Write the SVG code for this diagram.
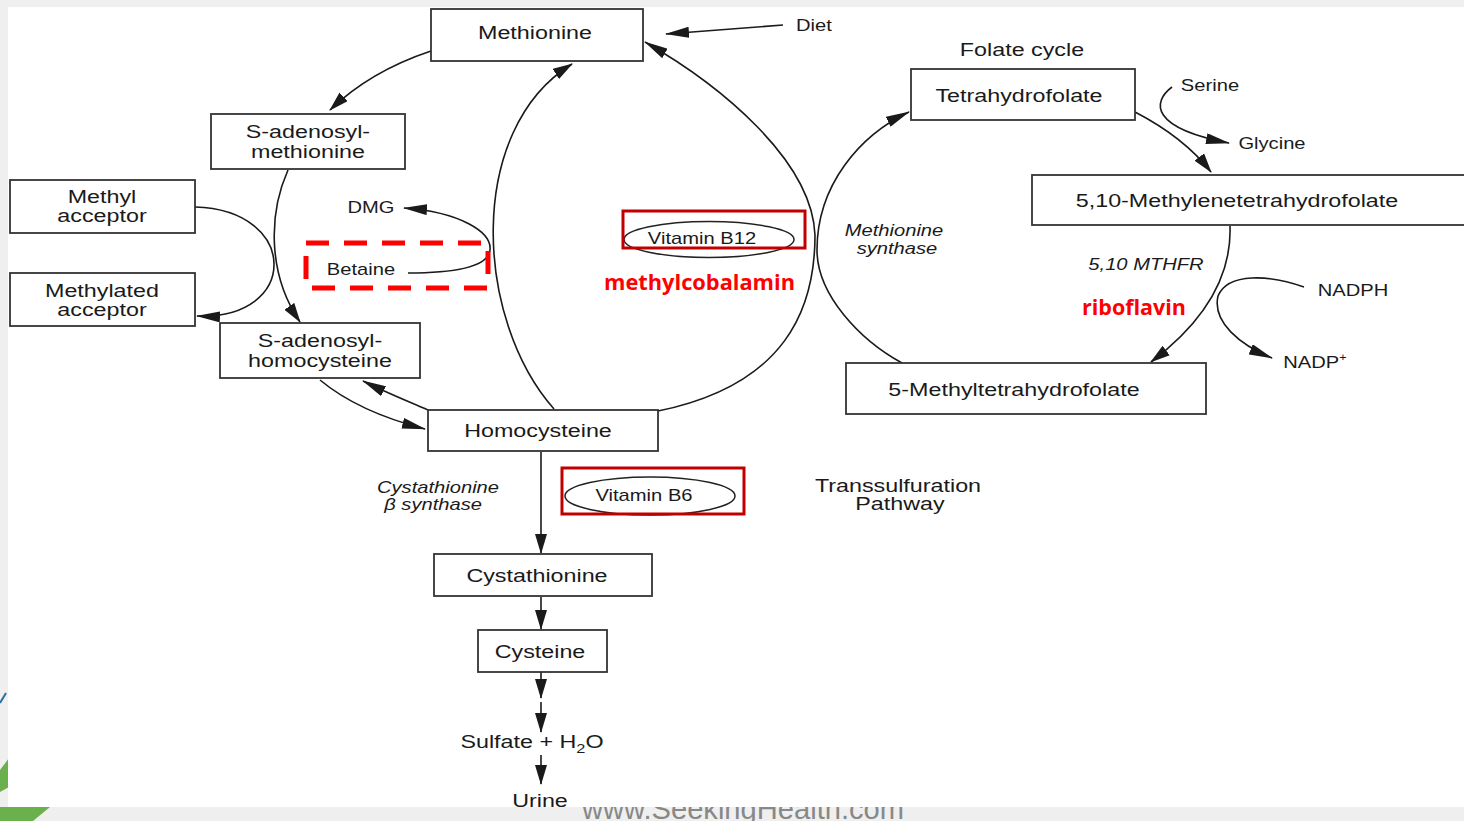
<svg xmlns="http://www.w3.org/2000/svg" width="1464" height="821" viewBox="0 0 1464 821">
<defs>
<style>
.bx{fill:#fff;stroke:#333;stroke-width:1.8}
.t{font-family:"Liberation Sans",Arial,sans-serif;fill:#1a1a1a;text-anchor:middle;transform-box:fill-box;transform-origin:center;transform:scaleX(1.26)}
.lg{font-size:18.5px}
.sm{font-size:16px}
.it{font-style:italic}
.ln{fill:none;stroke:#1a1a1a;stroke-width:1.6}
.h{marker-end:url(#ah)}
.v{marker-end:url(#av)}
.red{font-family:"Open Sans","Liberation Sans",Arial,sans-serif;font-weight:bold;font-size:21px;fill:#ff0000;text-anchor:middle}
.vb{fill:none;stroke:#c00000;stroke-width:3}
.el{fill:none;stroke:#222;stroke-width:1.5}
</style>
<marker id="ah" markerUnits="userSpaceOnUse" viewBox="0 0 24 11" markerWidth="24" markerHeight="11" refX="23" refY="5.5" orient="auto"><path d="M0,0 L24,5.5 L0,11 z" fill="#1a1a1a"/></marker>
<marker id="av" markerUnits="userSpaceOnUse" viewBox="0 0 20 12" markerWidth="20" markerHeight="12" refX="19" refY="6" orient="auto"><path d="M0,0 L20,6 L0,12 z" fill="#1a1a1a"/></marker>
<clipPath id="strip"><rect x="0" y="807" width="1464" height="14"/></clipPath>
</defs>

<g id="background">
<rect x="0" y="0" width="1464" height="821" fill="#efefef"/>
<polygon points="0,770 9,758 9,787 0,792" fill="#6ab04c"/>
<polygon points="0,807 50,807 33,821 0,821" fill="#6ab04c"/>
<line x1="0" y1="703" x2="6" y2="693" stroke="#2a6f9e" stroke-width="2"/>
<text x="743" y="819" clip-path="url(#strip)" font-family="Liberation Sans,Arial,sans-serif" font-size="29" fill="#888" text-anchor="middle" textLength="322" lengthAdjust="spacingAndGlyphs">www.SeekingHealth.com</text>
<rect x="8" y="7" width="1456" height="800" fill="#fff"/>
</g>

<g id="connectors">
<path class="ln v" d="M431,51 C395,63 358,83 330,110"/>
<path class="ln v" d="M288,170 C268,215 268,275 300,322"/>
<path class="ln h" d="M195,207 C300,210 300,320 197,316"/>
<path class="ln h" d="M320,380 C350,405 390,420 425,429"/>
<path class="ln h" d="M428,410 C405,400 385,392 363,381"/>
<path class="ln v" d="M554,409 C475,320 465,130 572,64"/>
<path class="ln h" d="M658,411 C785,385 815,310 815,235 C812,160 720,85 645,42"/>
<path class="ln h" d="M783,25 L666,34"/>
<path class="ln h" d="M408,273 C450,273 488,268 490,250 C492,232 460,212 404,208"/>
<path class="ln h" d="M902,363 C860,340 817,295 817,250 C817,185 860,135 909,112"/>
<path class="ln v" d="M1135,112 C1162,126 1190,145 1211,172"/>
<path class="ln h" d="M1172,87 C1152,102 1150,128 1229,143"/>
<path class="ln v" d="M1230,226 C1232,280 1200,325 1151,362"/>
<path class="ln h" d="M1304,287 C1270,275 1228,272 1218,296 C1212,322 1240,345 1272,358"/>
<path class="ln v" d="M541,452 L541,553"/>
<path class="ln v" d="M541,597 L541,629"/>
<path class="ln v" d="M541,672 L541,698"/>
<path class="ln v" d="M541,702 L541,732"/>
<path class="ln v" d="M541,755 L541,784"/>
</g>

<g id="methionine"><rect class="bx" x="431" y="9" width="212" height="52"/><text class="t lg" x="535" y="39">Methionine</text></g>
<g id="sam"><rect class="bx" x="211" y="114" width="194" height="55"/><text class="t lg" x="308" y="138">S-adenosyl-</text><text class="t lg" x="308" y="158">methionine</text></g>
<g id="methyl-acceptor"><rect class="bx" x="10" y="180" width="185" height="53"/><text class="t lg" x="102" y="203">Methyl</text><text class="t lg" x="102" y="222">acceptor</text></g>
<g id="methylated-acceptor"><rect class="bx" x="10" y="273" width="185" height="53"/><text class="t lg" x="102" y="297">Methylated</text><text class="t lg" x="102" y="316">acceptor</text></g>
<g id="sah"><rect class="bx" x="220" y="323" width="200" height="55"/><text class="t lg" x="320" y="347">S-adenosyl-</text><text class="t lg" x="320" y="367">homocysteine</text></g>
<g id="homocysteine"><rect class="bx" x="428" y="410" width="230" height="41"/><text class="t lg" x="538" y="437">Homocysteine</text></g>
<g id="tetrahydrofolate"><rect class="bx" x="911" y="69" width="224" height="51"/><text class="t lg" x="1019" y="102">Tetrahydrofolate</text></g>
<g id="methylenethf"><rect class="bx" x="1032" y="175" width="440" height="50"/><text class="t lg" x="1237" y="207">5,10-Methylenetetrahydrofolate</text></g>
<g id="methylthf"><rect class="bx" x="846" y="363" width="360" height="51"/><text class="t lg" x="1014" y="396">5-Methyltetrahydrofolate</text></g>
<g id="cystathionine"><rect class="bx" x="434" y="554" width="218" height="42"/><text class="t lg" x="537" y="582">Cystathionine</text></g>
<g id="cysteine"><rect class="bx" x="478" y="630" width="129" height="42"/><text class="t lg" x="540" y="658">Cysteine</text></g>
<g id="sulfate"><text class="t lg" x="532" y="748">Sulfate + H<tspan font-size="13" dy="5">2</tspan><tspan dy="-5">O</tspan></text></g>
<g id="urine"><text class="t lg" x="540" y="807">Urine</text></g>

<g id="labels">
<text class="t sm" x="814" y="31">Diet</text>
<text class="t lg" x="1022" y="56">Folate cycle</text>
<text class="t sm" x="1210" y="91">Serine</text>
<text class="t sm" x="1272" y="149">Glycine</text>
<text class="t sm" x="1353" y="296">NADPH</text>
<text class="t sm" x="1315" y="368">NADP<tspan font-size="10" dy="-7">+</tspan></text>
<text class="t sm it" x="1146" y="270">5,10 MTHFR</text>
<text class="t sm it" x="894" y="236">Methionine</text>
<text class="t sm it" x="897" y="254">synthase</text>
<text class="t sm" x="371" y="213">DMG</text>
<text class="t sm" x="361" y="275">Betaine</text>
<text class="t sm it" x="438" y="493">Cystathionine</text>
<text class="t sm it" x="433" y="510">β synthase</text>
<text class="t lg" x="898" y="492">Transsulfuration</text>
<text class="t lg" x="900" y="510">Pathway</text>
</g>

<g id="betaine-highlight"><rect x="306" y="243" width="182" height="45" fill="none" stroke="#ff0000" stroke-width="5" stroke-dasharray="23 15"/></g>

<g id="vitamin-b12">
<ellipse class="el" cx="709" cy="239.5" rx="85" ry="18"/>
<rect class="vb" x="623" y="211" width="182" height="37"/>
<text class="t sm" x="702" y="244">Vitamin B12</text>
<text class="red" x="699.5" y="290" textLength="191" lengthAdjust="spacingAndGlyphs">methylcobalamin</text>
</g>
<g id="vitamin-b6">
<ellipse class="el" cx="650" cy="496" rx="85" ry="19"/>
<rect class="vb" x="562" y="468" width="182" height="46"/>
<text class="t sm" x="644" y="501">Vitamin B6</text>
</g>
<g id="riboflavin"><text class="red" x="1134" y="315" textLength="104" lengthAdjust="spacingAndGlyphs">riboflavin</text></g>
</svg>
